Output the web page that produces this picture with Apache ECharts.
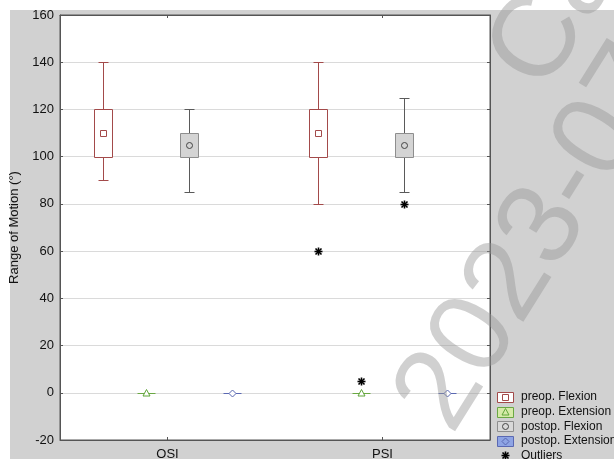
<!DOCTYPE html>
<html><head><meta charset="utf-8">
<script src="https://cdn.jsdelivr.net/npm/echarts/dist/echarts.min.js"></script>
<style>html,body{margin:0;padding:0;background:#fff}#c{width:614px;height:459px}</style>
</head><body><div id="c"></div>
<script>
// ---- data ----
const categories = ['OSI', 'PSI'];
const groupNames = ['preop. Flexion', 'preop. Extension', 'postop. Flexion', 'postop. Extension'];
// per category: [min, Q1, median, Q3, max]
const preopFlexion = [[90, 100, 110, 120, 140], [80, 100, 110, 120, 140]];
const preopExtension = [[0, 0, 0, 0, 0], [0, 0, 0, 0, 0]];
const postopFlexion = [[85, 100, 105, 110, 120], [85, 100, 105, 110, 125]];
const postopExtension = [[0, 0, 0, 0, 0], [0, 0, 0, 0, 0]];
// outliers: [categoryIndex, groupIndex, value]
const outliers = [[1, 0, 60], [1, 1, 5], [1, 2, 80]];
const yMin = -20, yMax = 160, yStep = 20;
const yTitle = 'Range of Motion (°)';
const outlierLabel = 'Outliers';
const watermarkLines = ['Ca', '2023-07'];

// ---- styles ----
const FONT = '"Liberation Sans", Arial, sans-serif';
const groupData = [preopFlexion, preopExtension, postopFlexion, postopExtension];
const groupOffsets = [-0.3, -0.1, 0.1, 0.3];
const BOX_W = 0.081, CAP_W = 0.043;
const styles = [
  { box: '#a34a4a', fill: '#ffffff', whisker: '#a34a4a', marker: 'square', mk: '#a34a4a', legendFill: '#ffffff' },
  { box: '#6aa843', fill: '#ffffff', whisker: '#6aa843', marker: 'triangle', mk: '#5fa538', legendFill: '#d6eaa8' },
  { box: '#8e8e8e', fill: '#d4d4d4', whisker: '#5a5a5a', marker: 'circle', mk: '#444444', legendFill: '#d9d9d9' },
  { box: '#5a68b2', fill: '#ffffff', whisker: '#5a68b2', marker: 'diamond', mk: '#5a68b2', legendFill: '#8ea4e4' }
];

function markerShape(kind, cx, cy, color, fill) {
  const s = { stroke: color, fill: fill, lineWidth: 1 };
  if (kind === 'square') return { type: 'rect', shape: { x: cx - 3, y: cy - 3, width: 6, height: 6 }, style: s };
  if (kind === 'circle') return { type: 'circle', shape: { cx: cx, cy: cy, r: 3 }, style: s };
  if (kind === 'triangle') return { type: 'polygon', shape: { points: [[cx, cy - 4], [cx + 3.5, cy + 2.5], [cx - 3.5, cy + 2.5]] }, style: s };
  return { type: 'polygon', shape: { points: [[cx, cy - 3.5], [cx + 3.5, cy], [cx, cy + 3.5], [cx - 3.5, cy]] }, style: s };
}
function asterisk(cx, cy) {
  const r = 4, d = 3;
  const st = { stroke: '#000', lineWidth: 1.6 };
  return [
    { type: 'line', shape: { x1: cx - r, y1: cy, x2: cx + r, y2: cy }, style: st },
    { type: 'line', shape: { x1: cx, y1: cy - r, x2: cx, y2: cy + r }, style: st },
    { type: 'line', shape: { x1: cx - d, y1: cy - d, x2: cx + d, y2: cy + d }, style: st },
    { type: 'line', shape: { x1: cx - d, y1: cy + d, x2: cx + d, y2: cy - d }, style: st }
  ];
}

function boxRenderer(gi) {
  const st = styles[gi];
  return function (params, api) {
    const ci = api.value(0);
    const bw = api.size([1, 0])[0];
    const cx = Math.round(api.coord([ci, 0])[0] + groupOffsets[gi] * bw) + 0.5;
    const ys = [1, 2, 3, 4, 5].map(d => Math.round(api.coord([ci, api.value(d)])[1]) + 0.5);
    const hw = Math.round(BOX_W * bw / 2), cw = Math.round(CAP_W * bw / 2);
    const ls = { stroke: st.whisker, lineWidth: 1 };
    const ch = [];
    if (ys[0] - ys[1] > 0.5) {
      ch.push({ type: 'line', shape: { x1: cx, y1: ys[0], x2: cx, y2: ys[1] }, style: ls });
      ch.push({ type: 'line', shape: { x1: cx - cw, y1: ys[0], x2: cx + cw, y2: ys[0] }, style: ls });
    }
    if (ys[3] - ys[4] > 0.5) {
      ch.push({ type: 'line', shape: { x1: cx, y1: ys[3], x2: cx, y2: ys[4] }, style: ls });
      ch.push({ type: 'line', shape: { x1: cx - cw, y1: ys[4], x2: cx + cw, y2: ys[4] }, style: ls });
    }
    if (ys[1] - ys[3] > 0.5) {
      ch.push({ type: 'rect', shape: { x: cx - hw, y: ys[3], width: 2 * hw, height: ys[1] - ys[3] }, style: { fill: st.fill, stroke: st.box, lineWidth: 1 } });
    } else {
      ch.push({ type: 'line', shape: { x1: cx - hw, y1: ys[1], x2: cx + hw, y2: ys[1] }, style: { stroke: st.box, lineWidth: 1 } });
    }
    ch.push(markerShape(st.marker, cx, ys[2], st.mk, gi === 2 ? st.fill : '#fff'));
    return { type: 'group', children: ch };
  };
}

const series = groupData.map((arr, gi) => ({
  type: 'custom',
  name: groupNames[gi],
  renderItem: boxRenderer(gi),
  encode: { x: 0, y: [1, 2, 3, 4, 5] },
  data: arr.map((v, ci) => [ci].concat(v)),
  silent: true
}));
series.push({
  type: 'custom',
  name: outlierLabel,
  encode: { x: 0, y: 2 },
  data: outliers,
  silent: true,
  renderItem: function (params, api) {
    const ci = api.value(0), gi = api.value(1);
    const bw = api.size([1, 0])[0];
    const p = api.coord([ci, api.value(2)]);
    return { type: 'group', children: asterisk(Math.round(p[0] + groupOffsets[gi] * bw) + 0.5, Math.round(p[1]) + 0.5) };
  }
});

// legend drawn as graphics
const legendEls = [];
const LX = 497, LY = 397, LS = 14.6;
groupNames.forEach((n, i) => {
  const cy = LY + i * LS;
  legendEls.push({ type: 'rect', shape: { x: LX + 0.5, y: Math.round(cy - 5) + 0.5, width: 16, height: 10 }, style: { fill: styles[i].legendFill, stroke: styles[i].box, lineWidth: 1 } });
  legendEls.push(markerShape(styles[i].marker, LX + 8.5, Math.round(cy) + 0.5, styles[i].mk, styles[i].legendFill));
  legendEls.push({ type: 'text', x: 521, y: cy, style: { text: n, font: '12px ' + FONT, fill: '#111', textVerticalAlign: 'middle' } });
});
{
  const cy = LY + 4 * LS;
  asterisk(LX + 8.5, Math.round(cy) + 0.5).forEach(e => legendEls.push(e));
  legendEls.push({ type: 'text', x: 521, y: cy, style: { text: outlierLabel, font: '12px ' + FONT, fill: '#111', textVerticalAlign: 'middle' } });
}

const wmStyle = { font: '116px ' + FONT, fill: 'rgba(150,150,150,0.45)', textAlign: 'left', textVerticalAlign: 'bottom' };
const wmRot = 58 * Math.PI / 180;

const axisLineStyle = { show: true, onZero: false, lineStyle: { color: '#555' } };
const tickStyle = { show: true, inside: true, length: 3, lineStyle: { color: '#555' } };

const chart = echarts.init(document.getElementById('c'), null, { renderer: 'canvas' });
chart.setOption({
  animation: false,
  backgroundColor: '#d1d1d1',
  grid: { left: 60, right: 124, top: 15, bottom: 19, show: true, backgroundColor: '#ffffff', borderColor: '#555', borderWidth: 1, containLabel: false, outerBoundsMode: 'none' },
  xAxis: [
    { type: 'category', data: categories, position: 'bottom', boundaryGap: true,
      axisLine: axisLineStyle,
      axisTick: Object.assign({ alignWithLabel: true }, tickStyle),
      axisLabel: { color: '#111', fontSize: 13, fontFamily: FONT, margin: 8 },
      splitLine: { show: false } },
    { type: 'category', data: categories, position: 'top', boundaryGap: true,
      axisLine: axisLineStyle,
      axisTick: Object.assign({ alignWithLabel: true }, tickStyle),
      axisLabel: { show: false }, splitLine: { show: false } }
  ],
  yAxis: [
    { type: 'value', min: yMin, max: yMax, interval: yStep, position: 'left',
      name: yTitle, nameLocation: 'middle', nameGap: 38, nameRotate: 90,
      nameTextStyle: { color: '#111', fontSize: 13, fontFamily: FONT },
      axisLine: axisLineStyle,
      axisTick: tickStyle,
      axisLabel: { color: '#111', fontSize: 13, fontFamily: FONT, margin: 6 },
      splitLine: { show: true, lineStyle: { color: '#dadada', width: 1 } } },
    { type: 'value', min: yMin, max: yMax, interval: yStep, position: 'right',
      axisLine: axisLineStyle,
      axisTick: tickStyle,
      axisLabel: { show: false }, splitLine: { show: false } }
  ],
  series: series,
  graphic: [
    { type: 'rect', shape: { x: 0, y: 0, width: 614, height: 10 }, style: { fill: '#fff' }, z: -10, silent: true },
    { type: 'rect', shape: { x: 0, y: 0, width: 10, height: 459 }, style: { fill: '#fff' }, z: -10, silent: true },
    { type: 'group', children: legendEls, silent: true },
    { type: 'text', x: 566, y: 108, rotation: wmRot, style: Object.assign({ text: watermarkLines[0] }, wmStyle), z: 100, silent: true },
    { type: 'text', x: 474, y: 450, rotation: wmRot, style: Object.assign({ text: watermarkLines[1] }, wmStyle), z: 100, silent: true }
  ]
});
</script>
</body></html>
